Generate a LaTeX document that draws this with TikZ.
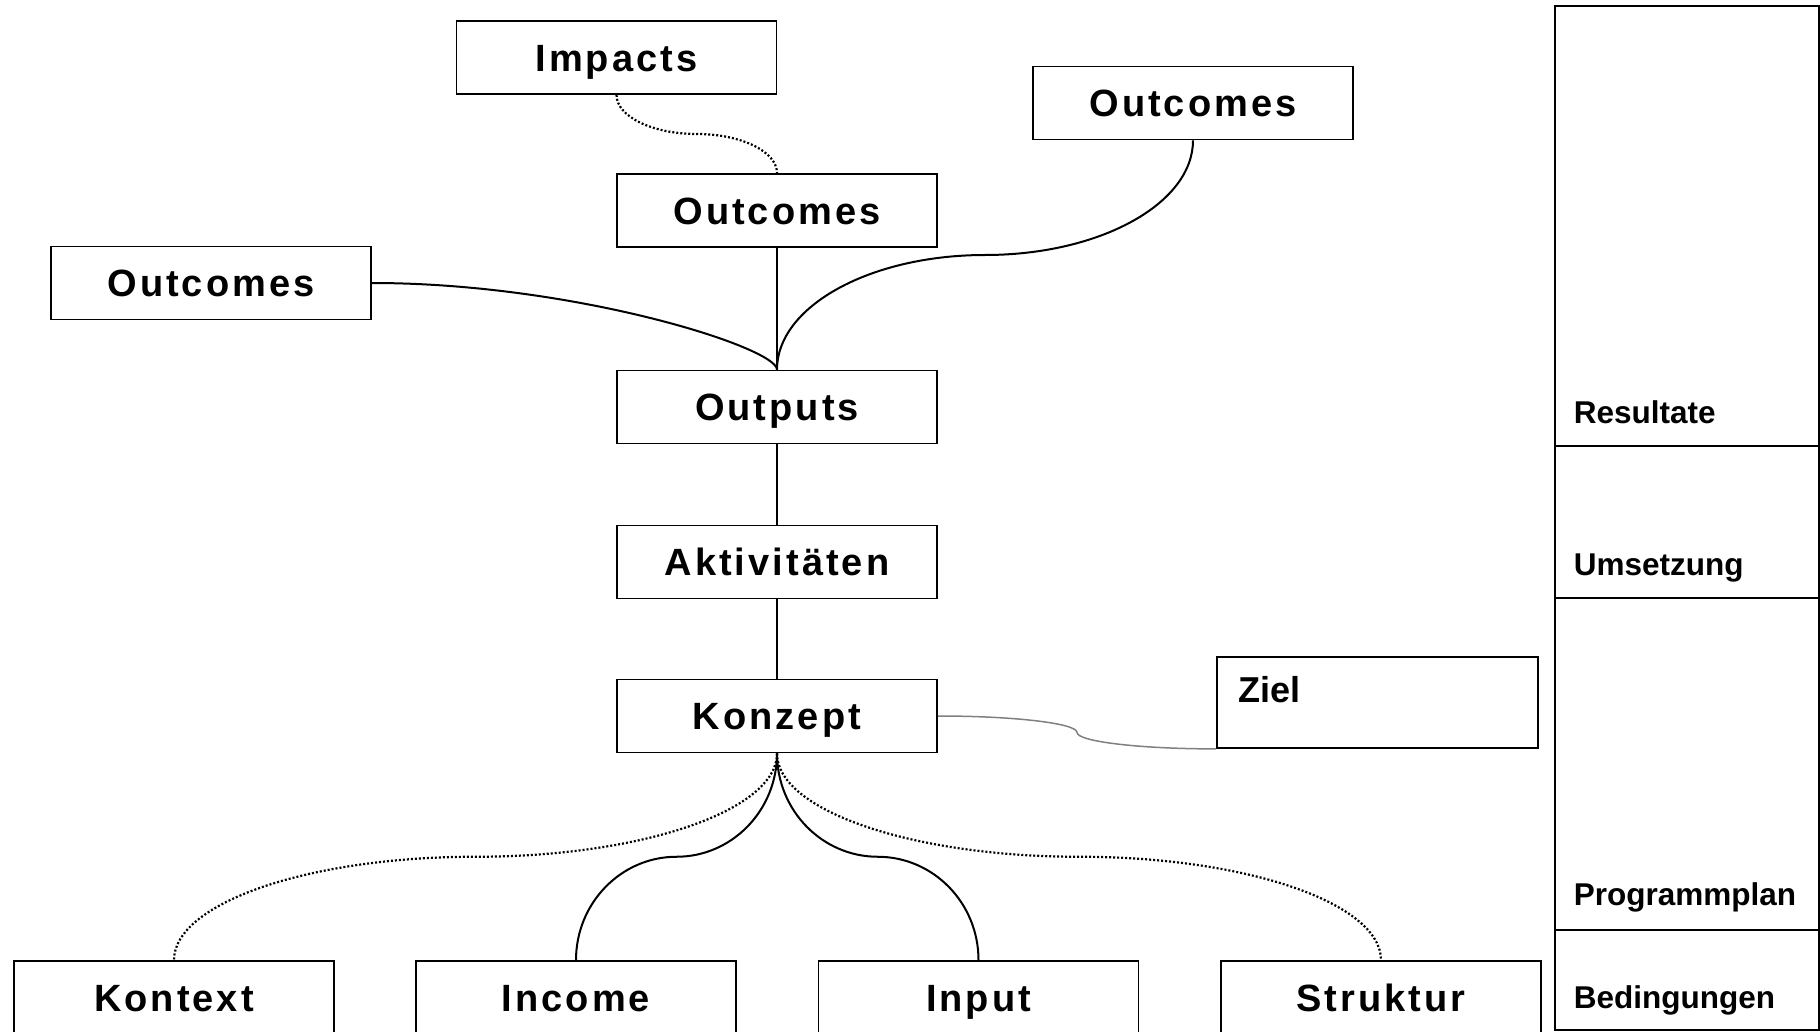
\documentclass[tikz,border=0pt]{standalone}
\usepackage{fontspec}
\setmainfont{Liberation Sans}
\newfontfamily\spacedfont{Liberation Sans}[LetterSpace=8]
\usetikzlibrary{calc}
\definecolor{cgrey}{HTML}{808080}
\tikzset{
  every picture/.style={line width=0.9pt},
  box/.style={draw, minimum width=160pt, minimum height=36.5pt, inner sep=0pt, text height=13.6pt, text depth=0pt, font=\spacedfont\bfseries\fontsize{19}{21}\selectfont},
  link/.style={line width=1pt},
  dotlink/.style={line width=1.1pt, dash pattern=on 1pt off 1pt},
  greylink/.style={draw=cgrey, line width=0.75pt},
  level/.style={anchor=base west, inner sep=0pt, font=\bfseries\fontsize{15.75}{18}\selectfont},
}
% S-shaped connector: leaves #2 vertically, level in the middle, enters #3 vertically
\newcommand{\vlink}[3][]{%
  \coordinate (mid) at ($(#2)!0.5!(#3)$);
  \draw[#1] (#2) .. controls ($(#2)!0.552!(#2|-mid)$) and ($(mid)!0.552!(#2|-mid)$) .. (mid)
    .. controls ($(mid)!0.552!(#3|-mid)$) and ($(#3)!0.552!(#3|-mid)$) .. (#3);}
% same, but leaving and entering horizontally
\newcommand{\hlink}[3][]{%
  \coordinate (mid) at ($(#2)!0.5!(#3)$);
  \draw[#1] (#2) .. controls ($(#2)!0.552!(mid|-#2)$) and ($(mid)!0.552!(mid|-#2)$) .. (mid)
    .. controls ($(mid)!0.552!(mid|-#3)$) and ($(#3)!0.552!(mid|-#3)$) .. (#3);}

\begin{document}
\begin{tikzpicture}[x=0.5pt, y=-0.5pt]
  \useasboundingbox (0,0) rectangle (1820,1032);
  % chain of results
  \node[box] (impacts) at (616.5,57.5) {Impacts};
  \node[box] (outR) at (1193,103) {Outcomes};
  \node[box] (outC) at (777,210.5) {Outcomes};
  \node[box] (outL) at (211,283) {Outcomes};
  \node[box] (outputs) at (777,407) {Outputs};
  \node[box] (akt) at (777,562) {Aktivitäten};
  \node[box] (konzept) at (777,716) {Konzept};
  \node[draw, minimum width=160.5pt, minimum height=45.5pt, inner sep=0pt] (ziel) at (1377.5,702.5) {};
  \node[anchor=base west, inner sep=0pt, font=\bfseries\fontsize{18}{20}\selectfont] (zieltext) at ($(ziel.north west)+(21,46)$) {Ziel};
  % conditions
  \node[box] (kontext) at (174,997.5) {Kontext};
  \node[box] (income) at (576,997.5) {Income};
  \node[box] (inp) at (978.5,997.5) {Input};
  \node[box] (struktur) at (1381,997.5) {Struktur};

  \vlink[dotlink]{impacts.south}{outC.north}
  \draw[link] (outC.south) -- (outputs.north);
  \draw[link] (outL.east) .. controls +(203,0) and +(0,-22) .. (outputs.north);
  \vlink[link]{outR.south}{outputs.north}
  \draw[link] (outputs.south) -- (akt.north);
  \draw[link] (akt.south) -- (konzept.north);
  \hlink[greylink]{konzept.east}{ziel.south west}
  \vlink[dotlink]{konzept.south}{kontext.north}
  \vlink[link]{konzept.south}{income.north}
  \vlink[link]{konzept.south}{inp.north}
  \vlink[dotlink]{konzept.south}{struktur.north}

  % levels on the right
  \draw[line width=1.2pt] (1555,6) rectangle (1819,1030);
  \draw[line width=1.2pt] (1555,446) -- (1819,446);
  \draw[line width=1.2pt] (1555,598) -- (1819,598);
  \draw[line width=1.2pt] (1555,930) -- (1819,930);
  \node[level] (resultate) at (1573,423) {Resultate};
  \node[level] (umsetzung) at (1573,575) {Umsetzung};
  \node[level] (programmplan) at (1573,905) {Programmplan};
  \node[level] (bedingungen) at (1573,1008) {Bedingungen};
\end{tikzpicture}
\end{document}
